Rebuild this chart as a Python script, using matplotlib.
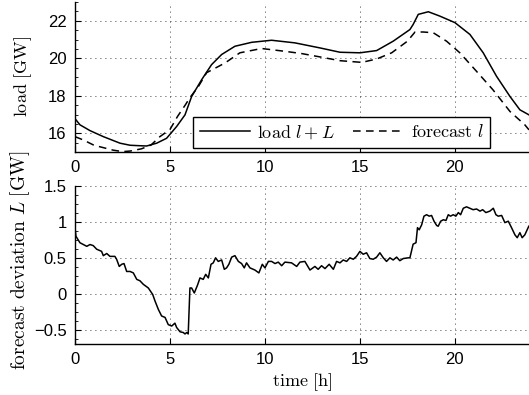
import numpy as np
import matplotlib
matplotlib.use('Agg')
import matplotlib.pyplot as plt
from matplotlib.ticker import AutoMinorLocator

plt.rcParams['font.family'] = ['Liberation Sans', 'DejaVu Sans']
plt.rcParams['mathtext.fontset'] = 'cm'

# measured load l+L [GW]
load_t = [0, 0.26, 0.79, 1.49, 2.37, 2.9, 3.3, 3.77, 4.3, 4.82, 5.35, 5.79, 6.14,
          6.67, 7.19, 7.72, 8.42, 9.3, 10.35, 11.58, 12.9, 13.95, 15.0, 15.88,
          16.75, 17.63, 17.8, 18.07, 18.6, 19.2, 20.0, 20.79, 21.49, 22.19,
          22.9, 23.42, 23.9]
load_v = [16.78, 16.45, 16.14, 15.82, 15.47, 15.36, 15.34, 15.32, 15.47, 15.73,
          16.36, 16.98, 17.96, 18.86, 19.66, 20.2, 20.64, 20.85, 20.96, 20.82,
          20.55, 20.32, 20.29, 20.41, 20.91, 21.53, 21.8, 22.34, 22.48, 22.25,
          21.9, 21.27, 20.29, 19.04, 17.96, 17.25, 16.98]

# forecast l [GW]
fc_t = [0, 0.44, 1.0, 2.0, 2.5, 2.9, 3.5, 4.0, 4.47, 5.0, 5.4, 5.8, 6.05, 6.5,
        6.93, 7.9, 8.68, 9.82, 11.05, 11.93, 12.9, 13.95, 15.1, 15.88, 16.67,
        17.5, 17.9, 18.33, 18.86, 19.56, 20.26, 21.14, 22.0, 22.9, 23.68, 23.9]
fc_v = [15.82, 15.64, 15.36, 15.1, 15.02, 15.05, 15.17, 15.37, 15.82, 16.2,
        16.9, 17.5, 17.9, 18.5, 19.23, 19.75, 20.29, 20.52, 20.37, 20.25, 20.07,
        19.87, 19.78, 19.96, 20.29, 20.91, 21.4, 21.4, 21.36, 20.91, 20.29,
        19.3, 18.32, 17.16, 16.45, 16.18]

# forecast deviation L [GW]
dev_t = [0, 0.05, 0.26, 0.44, 0.62, 0.79, 0.96, 1.14, 1.4, 1.49, 1.67, 1.84, 2.1,
         2.19, 2.33, 2.46, 2.58, 2.72, 2.9, 3.07, 3.25, 3.42, 3.6, 3.86, 4.09,
         4.21, 4.39, 4.56, 4.74, 4.91, 5.09, 5.26, 5.35, 5.53, 5.7, 5.79, 5.88,
         5.96, 6.05, 6.14, 6.28, 6.45, 6.58, 6.75, 6.88, 7.02, 7.16, 7.28, 7.4,
         7.54, 7.72, 7.86, 7.98, 8.1, 8.25, 8.42, 8.6, 8.77, 8.91, 9.03, 9.21,
         9.47, 9.68, 9.86, 10.0, 10.18, 10.35, 10.53, 10.7, 10.88, 11.05, 11.4,
         11.67, 11.84, 12.1, 12.37, 12.63, 12.8, 12.98, 13.16, 13.38, 13.6,
         13.77, 13.95, 14.12, 14.3, 14.47, 14.65, 14.82, 15.0, 15.17, 15.35,
         15.52, 15.7, 15.88, 16.05, 16.23, 16.4, 16.58, 16.75, 16.93, 17.1,
         17.28, 17.54, 17.63, 17.8, 17.95, 18.03, 18.12, 18.25, 18.37, 18.51,
         18.65, 18.77, 18.9, 19.04, 19.12, 19.25, 19.39, 19.53, 19.65, 19.77,
         19.91, 20.05, 20.18, 20.3, 20.44, 20.61, 20.79, 20.96, 21.14, 21.32,
         21.46, 21.63, 21.84, 22.02, 22.16, 22.28, 22.46, 22.63, 22.81, 22.98,
         23.16, 23.28, 23.42, 23.54, 23.68, 23.89]
dev_v = [0.92, 0.8, 0.71, 0.685, 0.66, 0.685, 0.67, 0.62, 0.59, 0.53, 0.56, 0.52,
         0.52, 0.48, 0.38, 0.41, 0.42, 0.31, 0.31, 0.29, 0.2, 0.18, 0.13, 0.08,
         -0.01, -0.1, -0.22, -0.31, -0.33, -0.43, -0.45, -0.41, -0.47, -0.53,
         -0.54, -0.56, -0.54, -0.56, 0.08, 0.08, 0.01, 0.12, 0.22, 0.2, 0.27,
         0.22, 0.41, 0.43, 0.5, 0.45, 0.47, 0.34, 0.36, 0.41, 0.51, 0.53, 0.45,
         0.42, 0.36, 0.43, 0.36, 0.33, 0.29, 0.41, 0.36, 0.45, 0.45, 0.42, 0.44,
         0.39, 0.44, 0.43, 0.38, 0.44, 0.45, 0.33, 0.38, 0.34, 0.39, 0.35, 0.41,
         0.34, 0.45, 0.43, 0.47, 0.45, 0.5, 0.48, 0.52, 0.59, 0.55, 0.57, 0.49,
         0.48, 0.51, 0.57, 0.5, 0.45, 0.5, 0.47, 0.51, 0.46, 0.49, 0.5, 0.5,
         0.69, 0.71, 0.92, 0.89, 0.96, 1.08, 1.1, 1.08, 1.09, 1.01, 0.95, 0.94,
         1.01, 1.03, 1.02, 1.1, 1.08, 1.1, 1.08, 1.13, 1.1, 1.19, 1.21, 1.19,
         1.17, 1.18, 1.15, 1.17, 1.13, 1.15, 1.19, 1.1, 1.08, 1.09, 0.99, 1.01,
         0.92, 0.82, 0.78, 0.85, 0.78, 0.82, 0.94]

xticks = [0, 5, 10, 15, 20]

fig = plt.figure(figsize=(5.29, 3.95), dpi=100)
ax1 = fig.add_axes([75/529, 1-152/395, 454/529, 150/395])
ax2 = fig.add_axes([75/529, 1-344/395, 454/529, 158/395])

grid_kw = dict(color='k', linestyle=(0, (1, 5)), linewidth=0.6)

ax1.plot(load_t, load_v, 'k-', lw=1.1, label=r'$\mathrm{load}\ l+L$')
ax1.plot(fc_t, fc_v, 'k', lw=1.1, linestyle=(0, (5, 3.5)), label=r'$\mathrm{forecast}\ l$')
ax1.set_ylim(15, 23)
ax1.set_yticks([16, 18, 20, 22])
ax1.set_ylabel(r'$\mathrm{load\ [GW]}$', fontsize=13)
ax1.yaxis.set_label_coords(-0.09, 0.5)
leg = ax1.legend(ncol=2, loc='lower right', bbox_to_anchor=(0.914, 0.03),
                 fontsize=13, frameon=True, fancybox=False, framealpha=1,
                 edgecolor='k', handlelength=2.8, columnspacing=1.0,
                 borderpad=0.35, handletextpad=0.4, borderaxespad=0)
leg.get_frame().set_linewidth(1.0)

ax2.plot(dev_t, dev_v, 'k-', lw=1.1)
ax2.set_ylim(-0.7, 1.5)
ax2.set_yticks([-0.5, 0, 0.5, 1, 1.5])
ax2.set_yticklabels(['\u22120.5', '0', '0.5', '1', '1.5'])
ax2.set_ylabel(r'$\mathrm{forecast\ deviation}\ L\ \mathrm{[GW]}$', fontsize=14)
ax2.yaxis.set_label_coords(-0.094, 0.53)
ax2.set_xlabel(r'$\mathrm{time\ [h]}$', fontsize=13, labelpad=3)

for ax in (ax1, ax2):
    ax.set_xlim(0, 23.9)
    ax.set_xticks(xticks)
    ax.grid(True, **grid_kw)
    ax.spines['top'].set_visible(False)
    ax.spines['right'].set_visible(False)
    ax.spines['left'].set_linewidth(1.0)
    ax.spines['bottom'].set_linewidth(1.0)
    ax.yaxis.set_minor_locator(AutoMinorLocator(4))
    ax.tick_params(direction='in', labelsize=12, length=4, width=0.8, pad=6)
    ax.tick_params(which='minor', direction='in', length=2, width=0.6)
    ax.set_axisbelow(True)

fig.savefig('out.png', dpi=100)
